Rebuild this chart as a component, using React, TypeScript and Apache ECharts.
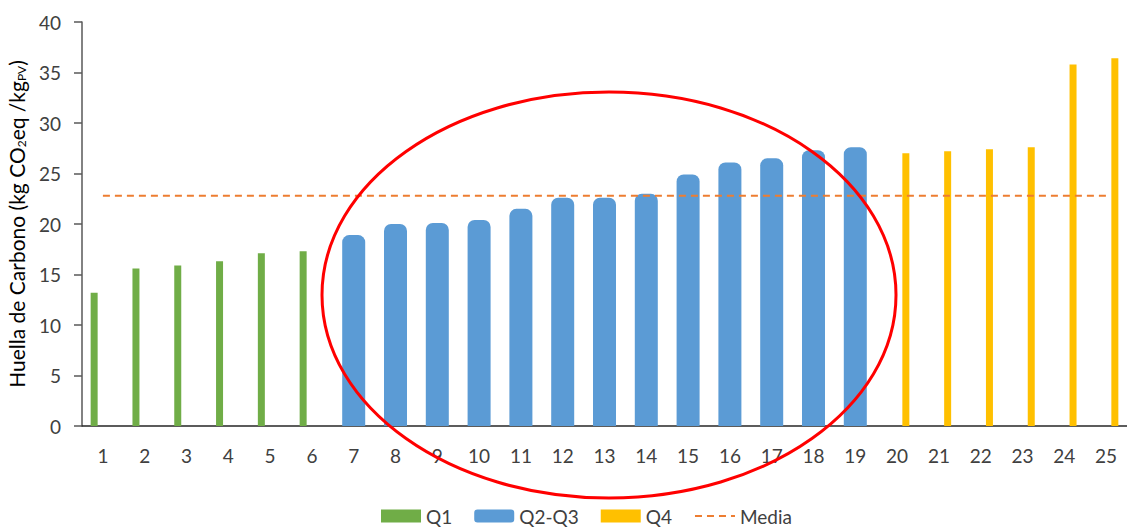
import React, { useEffect, useRef } from "react";
import * as echarts from "echarts";

const categories = ["1","2","3","4","5","6","7","8","9","10","11","12","13","14","15","16","17","18","19","20","21","22","23","24","25"];
const q1Values = [13.2, 15.6, 15.9, 16.3, 17.1, 17.3, null, null, null, null, null, null, null, null, null, null, null, null, null, null, null, null, null, null, null];
const q23Values = [null, null, null, null, null, null, 18.9, 20.0, 20.1, 20.4, 21.5, 22.6, 22.6, 23.0, 24.9, 26.1, 26.5, 27.3, 27.6, null, null, null, null, null, null];
const q4Values = [null, null, null, null, null, null, null, null, null, null, null, null, null, null, null, null, null, null, null, 27.0, 27.2, 27.4, 27.6, 35.8, 36.4];
const mediaValues = [22.8, 22.8, 22.8, 22.8, 22.8, 22.8, 22.8, 22.8, 22.8, 22.8, 22.8, 22.8, 22.8, 22.8, 22.8, 22.8, 22.8, 22.8, 22.8, 22.8, 22.8, 22.8, 22.8, 22.8, 22.8];
const yTicks = { min: 0, max: 40, interval: 5 };

const FONT = "Lato, 'Open Sans', sans-serif";

export default function App() {
  const ref = useRef<HTMLDivElement>(null);
  useEffect(() => {
    if (!ref.current) return;
    const chart = echarts.init(ref.current, null, { renderer: "svg" });
    chart.setOption({
      animation: false,
      textStyle: { fontFamily: FONT },
      grid: { left: 82, right: 0, top: 22, bottom: 102, containLabel: false, outerBoundsMode: "none" },
      legend: {
        left: 381,
        top: 506,
        padding: 0,
        itemWidth: 40,
        itemHeight: 13,
        itemGap: 22,
        textStyle: { fontSize: 19, lineHeight: 20, color: "#404040", fontFamily: FONT },
        data: [
          { name: "Q1", icon: "rect" },
          { name: "Q2-Q3", icon: "roundRect" },
          { name: "Q4", icon: "rect" },
          { name: "Media", itemStyle: { opacity: 0 } },
        ],
      },
      xAxis: [
        {
          type: "category",
          data: categories,
          axisTick: { show: false },
          axisLine: { lineStyle: { color: "#262626", width: 1.5 } },
          axisLabel: { fontSize: 19, color: "#404040", margin: 20, fontFamily: FONT },
        },
        {
          type: "category",
          data: categories,
          show: false,
        },
      ],
      yAxis: {
        type: "value",
        min: yTicks.min,
        max: yTicks.max,
        interval: yTicks.interval,
        splitLine: { show: false },
        axisLine: { show: true, lineStyle: { color: "#595959", width: 1.5 } },
        axisTick: { show: true, length: 8, lineStyle: { color: "#595959", width: 1.5 } },
        axisLabel: { fontSize: 19, color: "#404040", margin: 21, fontFamily: FONT },
        name: "Huella de Carbono (kg CO{sub|2}eq /kg{sub|PV})",
        nameLocation: "middle",
        nameGap: 55,
        nameRotate: 90,
        nameTextStyle: {
          fontSize: 21,
          color: "#000000",
          fontFamily: FONT,
          rich: {
            sub: { fontSize: 12, verticalAlign: "bottom", padding: [9, 0, 0, 0], fontFamily: FONT, color: "#000000" },
          },
        },
      },
      series: [
        {
          name: "Q1",
          type: "bar",
          xAxisIndex: 1,
          data: q1Values,
          barWidth: 7,
          barGap: "150%",
          itemStyle: { color: "#70AD47" },
        },
        {
          name: "Q2-Q3",
          type: "bar",
          xAxisIndex: 0,
          data: q23Values,
          barWidth: 23,
          itemStyle: { color: "#5B9BD5", borderRadius: [7, 7, 0, 0] },
        },
        {
          name: "Q4",
          type: "bar",
          xAxisIndex: 1,
          data: q4Values,
          barWidth: 7,
          barGap: "150%",
          itemStyle: { color: "#FFC000" },
        },
        {
          name: "Media",
          type: "line",
          xAxisIndex: 0,
          data: mediaValues,
          symbol: "none",
          lineStyle: { color: "#ED7D31", width: 2, type: [7, 5] },
          itemStyle: { color: "#ED7D31" },
          z: 5,
        },
      ],
      graphic: [
        {
          type: "ellipse",
          shape: { cx: 609, cy: 295, rx: 287, ry: 203 },
          style: { fill: "none", stroke: "#FF0000", lineWidth: 3 },
          z: 100,
          silent: true,
        },
      ],
    });
    return () => chart.dispose();
  }, []);
  return (
    <div
      ref={ref}
      style={{ position: "fixed", left: 0, top: 0, width: 1127, height: 528, background: "#ffffff" }}
    />
  );
}
